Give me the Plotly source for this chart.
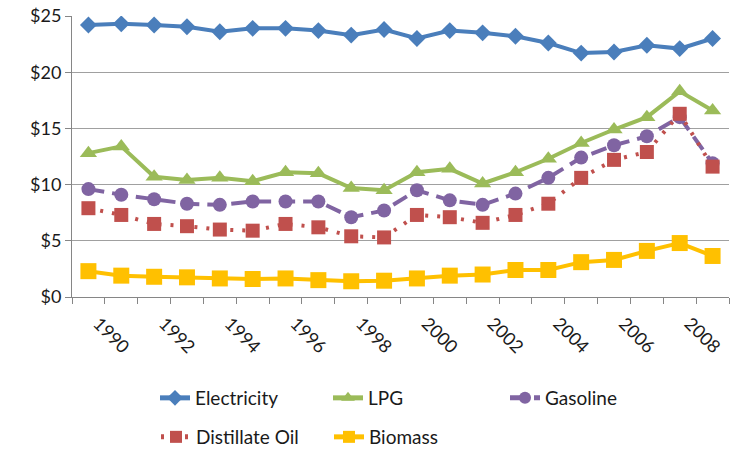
import plotly.graph_objects as go

years = list(range(1990, 2010))
tick_years = [1990, 1992, 1994, 1996, 1998, 2000, 2002, 2004, 2006, 2008]
tick_labels = [str(y) for y in tick_years]

electricity = [24.2, 24.3, 24.2, 24.05, 23.6, 23.9, 23.9, 23.7, 23.3, 23.8,
               23.0, 23.7, 23.5, 23.2, 22.6, 21.7, 21.8, 22.4, 22.1, 23.0]
lpg = [12.8, 13.4, 10.7, 10.4, 10.6, 10.3, 11.1, 11.0, 9.7, 9.5,
       11.1, 11.4, 10.1, 11.1, 12.3, 13.7, 14.9, 16.0, 18.3, 16.6]
gasoline = [9.6, 9.1, 8.7, 8.3, 8.2, 8.5, 8.5, 8.5, 7.1, 7.7,
            9.5, 8.6, 8.2, 9.2, 10.6, 12.4, 13.5, 14.3, 16.0, 11.9]
distillate = [7.9, 7.3, 6.5, 6.3, 6.0, 5.9, 6.5, 6.2, 5.4, 5.3,
              7.3, 7.1, 6.6, 7.3, 8.3, 10.6, 12.2, 12.9, 16.3, 11.6]
biomass = [2.3, 1.9, 1.8, 1.75, 1.65, 1.6, 1.65, 1.5, 1.4, 1.45,
           1.65, 1.9, 2.0, 2.4, 2.4, 3.1, 3.3, 4.1, 4.8, 3.65]

W, H = 734, 449
FONT = "Lato"
TXT = "#1a1a1a"

series = [
    ("Electricity", electricity, "#4A7EBB", "diamond", 13, "solid", "legend"),
    ("LPG", lpg, "#9BBB59", "triangle-up", 15, "solid", "legend2"),
    ("Gasoline", gasoline, "#8064A2", "circle", 14, "16px,8px", "legend3"),
    ("Distillate Oil", distillate, "#C0504D", "square", 14, "3px,9px", "legend4"),
    ("Biomass", biomass, "#FFC000", "square", 16, "solid", "legend5"),
]

fig = go.Figure()
for name, vals, color, sym, size, dash, lg in series:
    fig.add_trace(go.Scatter(
        x=years, y=vals, name=name, mode="lines+markers",
        line=dict(color=color, width=4, dash=dash),
        marker=dict(symbol=sym, size=size, color=color),
        legend=lg,
    ))

# legend item text x positions (px) and row y (px)
leg_pos = {
    "legend": (155, 398), "legend2": (328, 398), "legend3": (505, 398),
    "legend4": (156, 437), "legend5": (329, 437),
}
leg_layout = {}
for key, (px, py) in leg_pos.items():
    leg_layout[key] = dict(
        xref="container", yref="container",
        x=px / W, y=1 - py / H, xanchor="left", yanchor="middle",
        orientation="h", bgcolor="rgba(0,0,0,0)",
        font=dict(family=FONT, size=19, color=TXT),
        itemsizing="constant",
    )

fig.update_layout(
    width=W, height=H,
    margin=dict(l=72, r=5, t=16, b=152),
    paper_bgcolor="white", plot_bgcolor="white",
    font=dict(family=FONT, size=17, color=TXT),
    showlegend=True,
    **leg_layout,
)

fig.update_xaxes(
    range=[1989.5, 2009.5],
    tickmode="array", tickvals=tick_years, ticktext=tick_labels,
    tickangle=45, ticks="", showgrid=False, zeroline=False,
    showline=True, linecolor="#868686", linewidth=1,
    tickfont=dict(family=FONT, size=18, color=TXT),
    ticklabelshift=10, ticklabelstandoff=8,
    minor=dict(tickmode="linear", tick0=1989.5, dtick=1, ticks="outside",
               ticklen=6, tickcolor="#868686", showgrid=False),
)
fig.update_yaxes(
    range=[0, 25], dtick=5, tickprefix="$",
    showgrid=True, gridcolor="#a0a0a0", gridwidth=1,
    zeroline=False, showline=True, linecolor="#868686", linewidth=1,
    ticks="outside", ticklen=6, tickcolor="#868686",
    tickfont=dict(family=FONT, size=18, color=TXT),
)

fig.write_html("out.html",
               config={"displayModeBar": False},
               post_script="document.body.style.margin='0';document.body.style.overflow='hidden';")
